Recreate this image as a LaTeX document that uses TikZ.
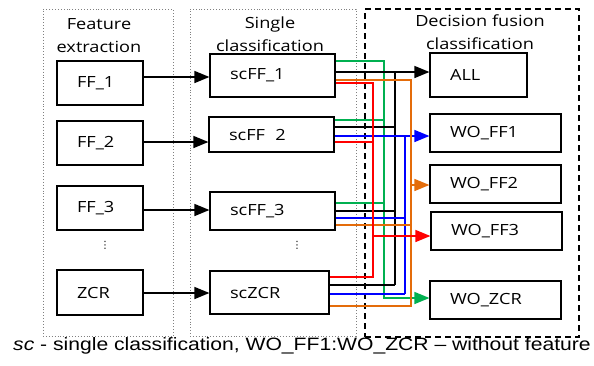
\documentclass[tikz,border=0pt]{standalone}
\usepackage{fontspec}
\setmainfont{Liberation Sans}
\newfontfamily\boxfont[FakeStretch=1.18]{Open Sans}
\newfontfamily\capfont[FakeStretch=1.18]{Liberation Sans}
\newfontfamily\symfont{DejaVu Sans}
\usetikzlibrary{arrows.meta}
\definecolor{wgreen}{RGB}{0,176,80}
\definecolor{worange}{RGB}{228,108,10}
\definecolor{wblue}{RGB}{0,0,255}
\definecolor{wred}{RGB}{255,0,0}

\begin{document}
\begin{tikzpicture}[x=1pt,y=-1pt,
  box/.style={draw, line width=1.2pt, font=\boxfont\fontsize{15.4}{18}\selectfont,
    align=left, inner xsep=20pt, inner ysep=0pt},
  group/.style={draw=gray, line width=0.9pt, dotted},
  fusion/.style={draw, line width=1.4pt, dash pattern=on 6pt off 4pt},
  title/.style={font=\boxfont\fontsize{15.4}{23}\selectfont, align=center},
  ellip/.style={font=\symfont\fontsize{10}{10}\selectfont, inner sep=0pt},
  tip/.style={-{Triangle[length=15pt,width=12pt]}},
  feed/.style={line width=1.5pt, tip},
  wire/.style={line width=1.5pt},
]
\useasboundingbox (0,0) rectangle (594,365);

% stage frames
\node[group, minimum width=130, minimum height=327] (gFE) at (108,172.5) {};
\node[group, minimum width=166, minimum height=327] (gSC) at (273,172.5) {};
\node[fusion, minimum width=214, minimum height=328] (gDF) at (472,173) {};

\node[title] (tFE) at (99,36) {Feature\\extraction};
\node[title] (tSC) at (270,34) {Single\\classification};
\node[title] (tDF) at (480,32.5) {Decision fusion\\classification};

% feature extraction
\node[box, text width=46, minimum height=44] (FF1) at (100,83) {FF\_1};
\node[box, text width=46, minimum height=44] (FF2) at (100,143) {FF\_2};
\node[box, text width=46, minimum height=44] (FF3) at (100,208) {FF\_3};
\node[box, text width=46, minimum height=45] (ZCR) at (100,292.5) {ZCR};
\node[ellip] (dFE) at (105,245) {⋮};

% single classification
\node[box, text width=85, minimum height=43] (scFF1) at (272.5,75.5) {scFF\_1};
\node[box, text width=85, minimum height=35] (scFF2) at (271.5,134.5) {scFF\ \ 2};
\node[box, text width=85, minimum height=38] (scFF3) at (272.5,211) {scFF\_3};
\node[box, text width=79, minimum height=43] (scZCR) at (269.5,292.5) {scZCR};
\node[ellip] (dSC) at (297,245) {⋮};

% decision fusion
\node[box, text width=57, minimum height=44] (ALL) at (478.5,75) {ALL};
\node[box, text width=91, minimum height=38] (WOFF1) at (495.5,133) {WO\_FF1};
\node[box, text width=91, minimum height=38] (WOFF2) at (495.5,184) {WO\_FF2};
\node[box, text width=91, minimum height=38] (WOFF3) at (496.5,231) {WO\_FF3};
\node[box, text width=91, minimum height=38] (WOZCR) at (495.5,300) {WO\_ZCR};

% features into single classifiers
\draw[feed] (FF1.east |- 0,77) -- (scFF1.west |- 0,77);
\draw[feed] (FF2.east |- 0,142) -- (scFF2.west |- 0,142);
\draw[feed] (FF3.east |- 0,210) -- (scFF3.west |- 0,210);
\draw[feed] (ZCR.east |- 0,293) -- (scZCR.west |- 0,293);

% bus columns
\coordinate (bR) at (373,0);
\coordinate (bG) at (384,0);
\coordinate (bK) at (395,0);
\coordinate (bB) at (405,0);
\coordinate (bO) at (411,0);

% green: without ZCR
\draw[wire, wgreen, tip] (scFF1.east |- 0,61) -| (bG |- 0,298) -- (WOZCR.west |- 0,298);
\draw[wire, wgreen] (scFF2.east |- 0,120) -- (bG |- 0,120);
\draw[wire, wgreen] (scFF3.east |- 0,203) -- (bG |- 0,203);

% black: all features
\draw[wire, black, tip] (scFF1.east |- 0,72) -- (ALL.west |- 0,72);
\draw[wire, black] (bK |- 0,72) -- (bK |- 0,285);
\draw[wire, black] (scFF2.east |- 0,127) -- (bK |- 0,127);
\draw[wire, black] (scFF3.east |- 0,211) -- (bK |- 0,211);
\draw[wire, black] (scZCR.east |- 0,285) -- (bK |- 0,285);

% blue: without FF_1
\draw[wire, wblue, tip] (scFF2.east |- 0,136) -- (WOFF1.west |- 0,136);
\draw[wire, wblue] (bB |- 0,136) -- (bB |- 0,294);
\draw[wire, wblue] (scFF3.east |- 0,218) -- (bB |- 0,218);
\draw[wire, wblue] (scZCR.east |- 0,294) -- (bB |- 0,294);

% orange: without FF_2
\draw[wire, worange] (scFF1.east |- 0,80) -| (bO |- 0,306) -- (scZCR.east |- 0,306);
\draw[wire, worange] (scFF3.east |- 0,225) -- (bO |- 0,225);
\draw[wire, worange, tip] (bO |- 0,185) -- (WOFF2.west |- 0,185);

% red: without FF_3
\draw[wire, wred] (scFF1.east |- 0,83) -| (bR |- 0,277) -- (scZCR.east |- 0,277);
\draw[wire, wred] (scFF2.east |- 0,142) -- (bR |- 0,142);
\draw[wire, wred, tip] (bR |- 0,236) -- (WOFF3.west |- 0,236);

% legend
\node[font=\capfont\fontsize{17.9}{20}\selectfont, inner sep=0pt] (cap) at (302,346)
  {{\capfont\itshape sc} - single classification, WO\_FF1:WO\_ZCR – without feature};
\end{tikzpicture}
\end{document}
